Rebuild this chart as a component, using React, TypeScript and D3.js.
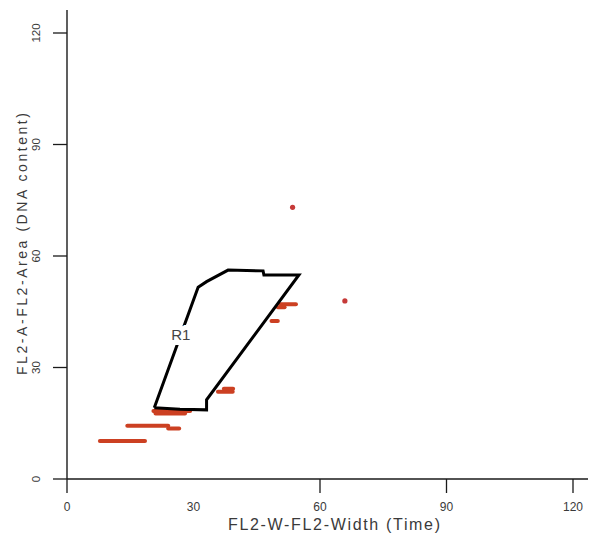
import React from "react";
import * as d3 from "d3";

// ---- data (FL2-W width vs FL2-A area) ----
const xTickValues = [0, 60, 90, 120];
const xTickLabels = [0, 30, 60, 90, 120];
const yTickValues = [0, 30, 60, 90, 120];

// horizontal streaks of events: [y, xStart, xEnd]
const streakY = [10.2, 14.3, 13.6, 18.3, 17.6, 23.5, 24.3, 47.0, 46.2, 42.5];
const streakX0 = [7.8, 14.3, 24.0, 20.5, 21.0, 35.8, 37.2, 50.6, 50.0, 48.5];
const streakX1 = [18.5, 24.0, 26.6, 29.2, 28.0, 39.3, 39.4, 54.3, 51.6, 50.0];

// isolated events
const dotX = [65.9, 53.5];
const dotY = [47.9, 73.1];

// gate R1 polygon vertices
const gateX = [20.7, 31.1, 33.1, 38.2, 46.5, 46.7, 55.0, 33.1, 33.1, 26.8];
const gateY = [19.2, 51.6, 53.1, 56.2, 56.0, 54.9, 54.9, 21.3, 18.6, 18.8];
const gateLabel = "R1";
const gateLabelPos = [27.0, 39.0];

const xTitle = "FL2-W-FL2-Width (Time)";
const yTitle = "FL2-A-FL2-Area (DNA content)";

export default function App() {
  const W = 590;
  const H = 537;
  const x = d3.scaleLinear().domain([0, 120]).range([67, 573]);
  const y = d3.scaleLinear().domain([0, 120]).range([479, 33]);

  const gatePts: [number, number][] = gateX.map((gx, i) => [x(gx), y(gateY[i])]);
  const gatePath = d3.line()(gatePts.concat([gatePts[0]])) || "";

  const font = "Arial, 'Liberation Sans', sans-serif";
  const txt = "#3a3a3a";
  const axisCol = "#1a1a1a";

  return (
    <svg
      width={W}
      height={H}
      style={{ position: "absolute", left: 0, top: 0, background: "#fff" }}
      fontFamily={font}
    >
      {/* axes */}
      <line x1={x(0)} x2={588} y1={y(0)} y2={y(0)} stroke={axisCol} strokeWidth={1.4} />
      <line x1={x(0)} x2={x(0)} y1={10} y2={y(0)} stroke={axisCol} strokeWidth={1.4} />
      {xTickValues.map((v) => (
        <line key={"xt" + v} x1={x(v)} x2={x(v)} y1={y(0)} y2={y(0) + 14} stroke={axisCol} strokeWidth={1.3} />
      ))}
      {yTickValues.map((v) => (
        <line key={"yt" + v} x1={x(0) - 14} x2={x(0)} y1={y(v)} y2={y(v)} stroke={axisCol} strokeWidth={1.3} />
      ))}
      {xTickLabels.map((v) => (
        <text key={"xl" + v} x={x(v)} y={511} textAnchor="middle" fontSize={12} fill={txt}>
          {v}
        </text>
      ))}
      {yTickValues.map((v) => (
        <text
          key={"yl" + v}
          transform={`translate(39.5,${y(v)}) rotate(-90)`}
          textAnchor="middle"
          fontSize={11.5}
          fill={txt}
        >
          {v}
        </text>
      ))}
      <text x={334} y={530} textAnchor="middle" fontSize={16} fill={txt} textLength={212} lengthAdjust="spacing">
        {xTitle}
      </text>
      <text
        transform={`translate(27,244) rotate(-90)`}
        textAnchor="middle"
        fontSize={14}
        fill={txt}
        textLength={262}
        lengthAdjust="spacing"
      >
        {yTitle}
      </text>

      {/* events */}
      {streakY.map((sy, i) => (
        <line
          key={"s" + i}
          x1={x(streakX0[i])}
          x2={x(streakX1[i])}
          y1={y(sy)}
          y2={y(sy)}
          stroke="#cc4022"
          strokeWidth={4}
          strokeLinecap="round"
        />
      ))}
      {dotX.map((dx, i) => (
        <circle key={"d" + i} cx={x(dx)} cy={y(dotY[i])} r={2.6} fill="#c63a38" />
      ))}

      {/* gate */}
      <path d={gatePath} fill="none" stroke="#000" strokeWidth={3} strokeLinejoin="miter" />
      <text
        x={x(gateLabelPos[0])}
        y={y(gateLabelPos[1]) + 6}
        textAnchor="middle"
        fontSize={15}
        fill="#444"
        stroke="#fff"
        strokeWidth={10}
        paintOrder="stroke"
      >
        {gateLabel}
      </text>
    </svg>
  );
}
